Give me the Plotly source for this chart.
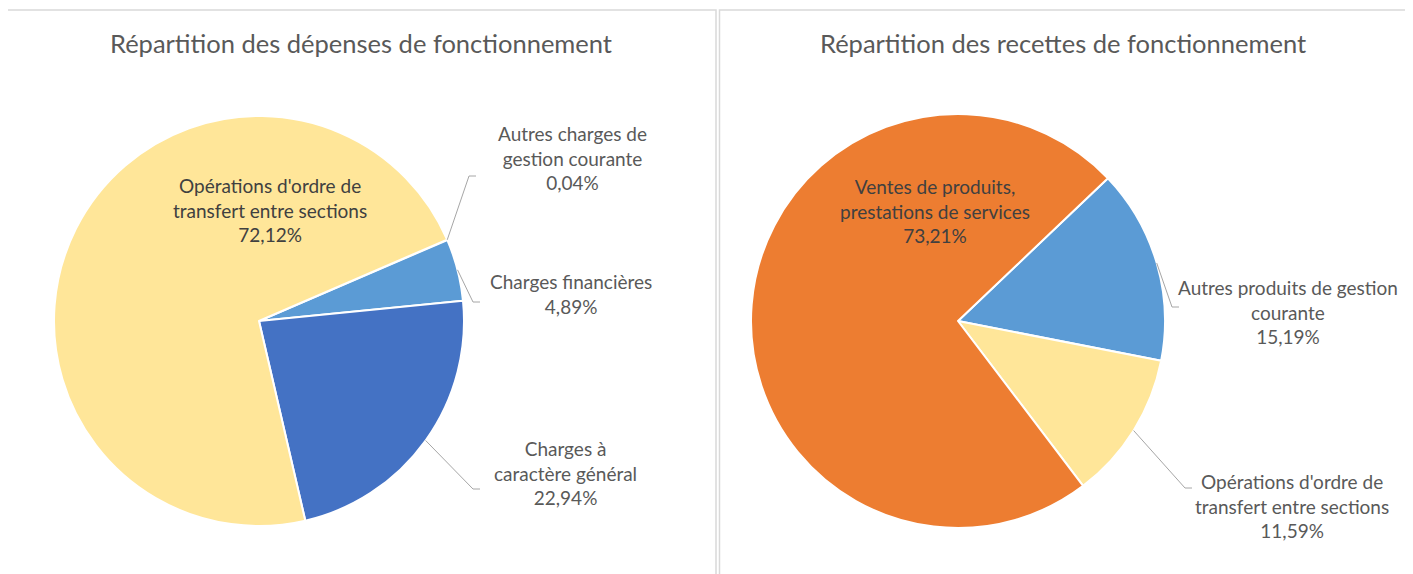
import math
import plotly.graph_objects as go

# browser body margin offsets the figure by 8px; all pixel positions below are screen positions
OFF = 8
W, H = 1413 - OFF, 574 - OFF

# ---- data ----
dep_labels = ["Autres charges de gestion courante", "Charges financières",
              "Charges à caractère général", "Opérations d'ordre de transfert entre sections"]
dep_values = [0.04, 4.89, 22.94, 72.12]
dep_text = ["Autres charges de<br>gestion courante<br>0,04%",
            "Charges financières<br>4,89%",
            "Charges à<br>caractère général<br>22,94%",
            "Opérations d'ordre de<br>transfert entre sections<br>72,12%"]
dep_colors = ["#A5A5A5", "#5B9BD5", "#4472C4", "#FFE699"]

rec_labels = ["Autres produits de gestion courante",
              "Opérations d'ordre de transfert entre sections",
              "Ventes de produits, prestations de services"]
rec_values = [15.19, 11.59, 73.21]
rec_text = ["Autres produits de gestion<br>courante<br>15,19%",
            "Opérations d'ordre de<br>transfert entre sections<br>11,59%",
            "Ventes de produits,<br>prestations de services<br>73,21%"]
rec_colors = ["#5B9BD5", "#FFE699", "#ED7D31"]

titles = ["Répartition des dépenses de fonctionnement",
          "Répartition des recettes de fonctionnement"]

# ---- layout (screen pixels) ----
pies = [
    dict(cx=259, cy=321, r=205, rot=66.6, values=dep_values, labels=dep_labels,
         colors=dep_colors, text=dep_text,
         lab=[(572, 158), (571, 294), (565, 473), (270, 210)],
         elbow=[(469, 176), (473, 302), (473, 489), None],
         tcx=361),
    dict(cx=958, cy=321, r=207, rot=46.4, values=rec_values, labels=rec_labels,
         colors=rec_colors, text=rec_text,
         lab=[(1288, 312), (1292, 506), (935, 211)],
         elbow=[(1172, 307), (1185, 488), None],
         tcx=1063),
]


def px(x):
    return (x - OFF) / W


def py(y):
    return 1 - (y - OFF) / H


FONT = "Lato, 'Open Sans', sans-serif"
fig = go.Figure()
shapes = []
annotations = []

# panel borders
for x0, x1 in [(6.5, 716), (719.5, 1406)]:
    shapes.append(dict(type="rect", xref="paper", yref="paper",
                       x0=px(x0), x1=px(x1), y0=-0.05, y1=py(10),
                       line=dict(color="#D9D9D9", width=1.5), fillcolor="rgba(0,0,0,0)",
                       layer="below"))

for i, p in enumerate(pies):
    cx, cy, r = p["cx"], p["cy"], p["r"]
    fig.add_trace(go.Pie(
        values=p["values"], labels=p["labels"], sort=False, direction="clockwise",
        rotation=p["rot"], textinfo="none", hoverinfo="label+percent",
        marker=dict(colors=p["colors"], line=dict(color="white", width=2)),
        domain=dict(x=[px(cx - r), px(cx + r)], y=[py(cy + r), py(cy - r)]),
        showlegend=False))
    tot = sum(p["values"])
    cum = 0
    for j, v in enumerate(p["values"]):
        mid = p["rot"] + (cum + v / 2) / tot * 360
        cum += v
        lx, ly = p["lab"][j]
        inside = p["elbow"][j] is None
        annotations.append(dict(
            x=px(lx), y=py(ly), xref="paper", yref="paper", showarrow=False,
            text=p["text"][j], align="center", xanchor="center", yanchor="middle",
            font=dict(family=FONT, size=19, color="#404040" if inside else "#595959")))
        if not inside:
            a = math.radians(mid)
            sx, sy = cx + r * math.sin(a), cy - r * math.cos(a)
            ex, ey = p["elbow"][j]
            hx = ex + 7
            path = f"M {px(sx)} {py(sy)} L {px(ex)} {py(ey)} L {px(hx)} {py(ey)}"
            shapes.append(dict(type="path", xref="paper", yref="paper", path=path,
                               line=dict(color="#A6A6A6", width=1)))
    annotations.append(dict(
        x=px(p["tcx"]), y=py(43), xref="paper", yref="paper", showarrow=False,
        text=titles[i], xanchor="center", yanchor="middle",
        font=dict(family=FONT, size=25.5, color="#595959")))

fig.update_layout(width=W, height=H, margin=dict(l=0, r=0, t=0, b=0),
                  paper_bgcolor="white", plot_bgcolor="white",
                  shapes=shapes, annotations=annotations)
fig.write_html("out.html")
